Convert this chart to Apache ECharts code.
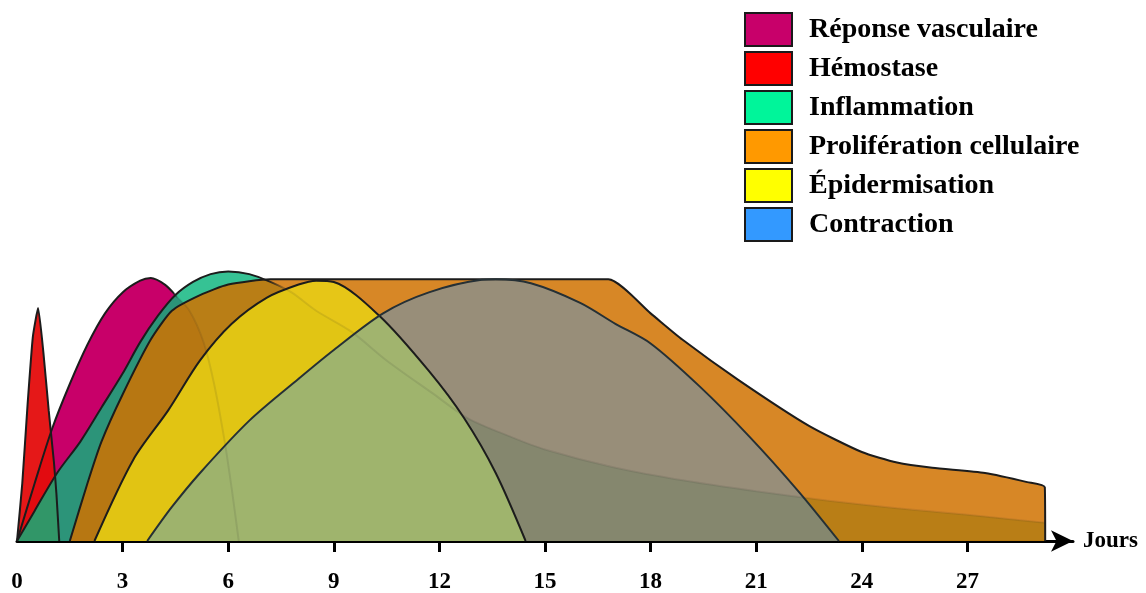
<!DOCTYPE html>
<html>
<head>
<meta charset="utf-8">
<script src="https://cdn.jsdelivr.net/npm/echarts@6/dist/echarts.min.js"></script>
<style>
  html, body { margin: 0; background: #fff; }
  #main { width: 1146px; height: 593px; }
</style>
</head>
<body>
<div id="main"></div>
<script>
// phases, in legend order (also the drawing order, back to front)
const names = ['Réponse vasculaire', 'Hémostase', 'Inflammation', 'Prolifération cellulaire', 'Épidermisation', 'Contraction'];
const legendColors = ['#c8006a', '#ff0000', '#00f59a', '#ff9900', '#ffff00', '#3399ff'];
const fillColors = ['rgba(200,0,105,1)', 'rgba(228,12,12,0.95)', 'rgba(10,180,125,0.82)',
  'rgba(208,114,0,0.85)', 'rgba(235,215,20,0.8)', 'rgba(51,153,255,0.38)'];

// [jour, intensité] (100 = plateau)
const reponseVasc = [[0, 0], [0.5, 22], [1, 43], [1.5, 60], [2, 75], [2.5, 87], [3, 95], [3.5, 99.5], [3.8, 100.5],
  [4.2, 98], [4.5, 94], [4.9, 88], [5.3, 76], [5.6, 60], [5.9, 38], [6.1, 20], [6.3, 0]];
const hemostase = [[0, 0], [0.15, 22], [0.3, 52], [0.45, 78], [0.6, 89], [0.75, 72], [0.9, 50], [1.05, 30], [1.12, 18], [1.2, 0]];
const inflammation = [[0, 0], [0.5, 11.5], [1.14, 26], [1.8, 38], [2.4, 51], [3, 64], [3.5, 76], [4, 86], [4.5, 94], [5, 99],
  [5.5, 102], [6, 103], [6.6, 102], [7.2, 99], [7.8, 95], [8.5, 88], [9.5, 80], [10.5, 69], [11.8, 56.5], [12.8, 47],
  [14, 40], [15, 35], [17, 28], [19, 23], [21, 19], [23, 15.5], [25, 12.5], [27, 10], [29.2, 7]];
const proliferation = [[1.5, 0], [2, 22], [2.4, 38], [3, 56], [3.8, 77], [4.4, 88], [5.2, 94], [6, 98], [7.2, 100],
  [12, 100], [16.8, 100], [18, 87], [18.9, 77], [20.5, 61.5], [22.5, 44], [24, 34], [25, 30], [26, 28], [27.5, 26],
  [28.7, 22.5], [29.2, 20.5], [29.21, 0]];
const epidermisation = [[2.2, 0], [3.3, 31], [4.3, 50], [5.2, 69], [6.1, 83], [7.1, 93], [8, 98], [8.5, 99.5], [9, 99],
  [10.3, 86], [11.7, 65], [12.7, 47], [13.6, 26], [14.45, 0]];
const contraction = [[3.7, 0], [4.4, 13], [5.2, 26], [6.6, 46], [8, 62], [9, 73], [10.4, 87], [11.7, 95], [13.2, 99.8],
  [13.6, 100], [14.6, 98.5], [16, 91], [17, 83], [18, 75.5], [19.4, 59], [20.8, 40], [22.2, 19], [23.35, 0]];
const seriesData = [reponseVasc, hemostase, inflammation, proliferation, epidermisation, contraction];

const tickDays = [3, 6, 9, 12, 15, 18, 21, 24, 27];
const labelDays = [0, 3, 6, 9, 12, 15, 18, 21, 24, 27];

const serif = 'Liberation Serif, Times New Roman, serif';
const ink = '#1c1c1c';
const faintInk = 'rgba(28,28,28,0.1)';

// outline that fades once the curve slips behind the layers in front
function fadingLine(fromFrac) {
  return {
    type: 'linear', x: 0, y: 0, x2: 1, y2: 0,
    colorStops: [
      { offset: 0, color: ink }, { offset: fromFrac, color: ink },
      { offset: fromFrac + 0.02, color: faintInk }, { offset: 1, color: faintInk }
    ]
  };
}
const lineColors = [fadingLine(0.7), ink, fadingLine(0.245), ink, ink, '#253035'];
const smoothness = [0.3, 0.15, 0.3, 0.2, 0.3, 0.3];

var myChart = echarts.init(document.getElementById('main'));

var option = {
  animation: false,
  legend: {
    orient: 'vertical',
    left: 744,
    top: 12,
    padding: 0,
    itemWidth: 47,
    itemHeight: 33,
    itemGap: 4,
    icon: 'rect',
    itemStyle: { borderColor: '#1a1a1a', borderWidth: 2 },
    textStyle: { fontFamily: serif, fontWeight: 'bold', fontSize: 28, lineHeight: 32, color: '#000', padding: [0, 0, 0, 12] },
    data: names.map(function (n, i) {
      return { name: n, itemStyle: { color: legendColors[i] } };
    })
  },
  grid: { left: 17, right: 73, top: 227, bottom: 52, outerBoundsMode: 'none' },
  xAxis: {
    type: 'value',
    min: 0,
    max: 30,
    interval: 3,
    name: 'Jours',
    nameLocation: 'end',
    nameGap: 10,
    nameTextStyle: { fontFamily: serif, fontWeight: 'bold', fontSize: 23, color: '#000' },
    splitLine: { show: false },
    axisLine: {
      lineStyle: { color: '#000', width: 3 },
      symbol: ['none', 'arrow'],
      symbolSize: [16, 22]
    },
    axisTick: { show: true, length: 11, lineStyle: { color: '#000', width: 3 }, customValues: tickDays },
    axisLabel: { fontFamily: serif, fontWeight: 'bold', fontSize: 23, color: '#000', margin: 30, customValues: labelDays }
  },
  yAxis: { type: 'value', min: 0, max: 120, show: false },
  series: names.map(function (n, i) {
    return {
      name: n,
      type: 'line',
      data: seriesData[i],
      symbol: 'none',
      smooth: smoothness[i],
      itemStyle: { color: legendColors[i] },
      lineStyle: { color: lineColors[i], width: 2 },
      areaStyle: { color: fillColors[i], opacity: 1 }
    };
  })
};

myChart.setOption(option);
</script>
</body>
</html>
